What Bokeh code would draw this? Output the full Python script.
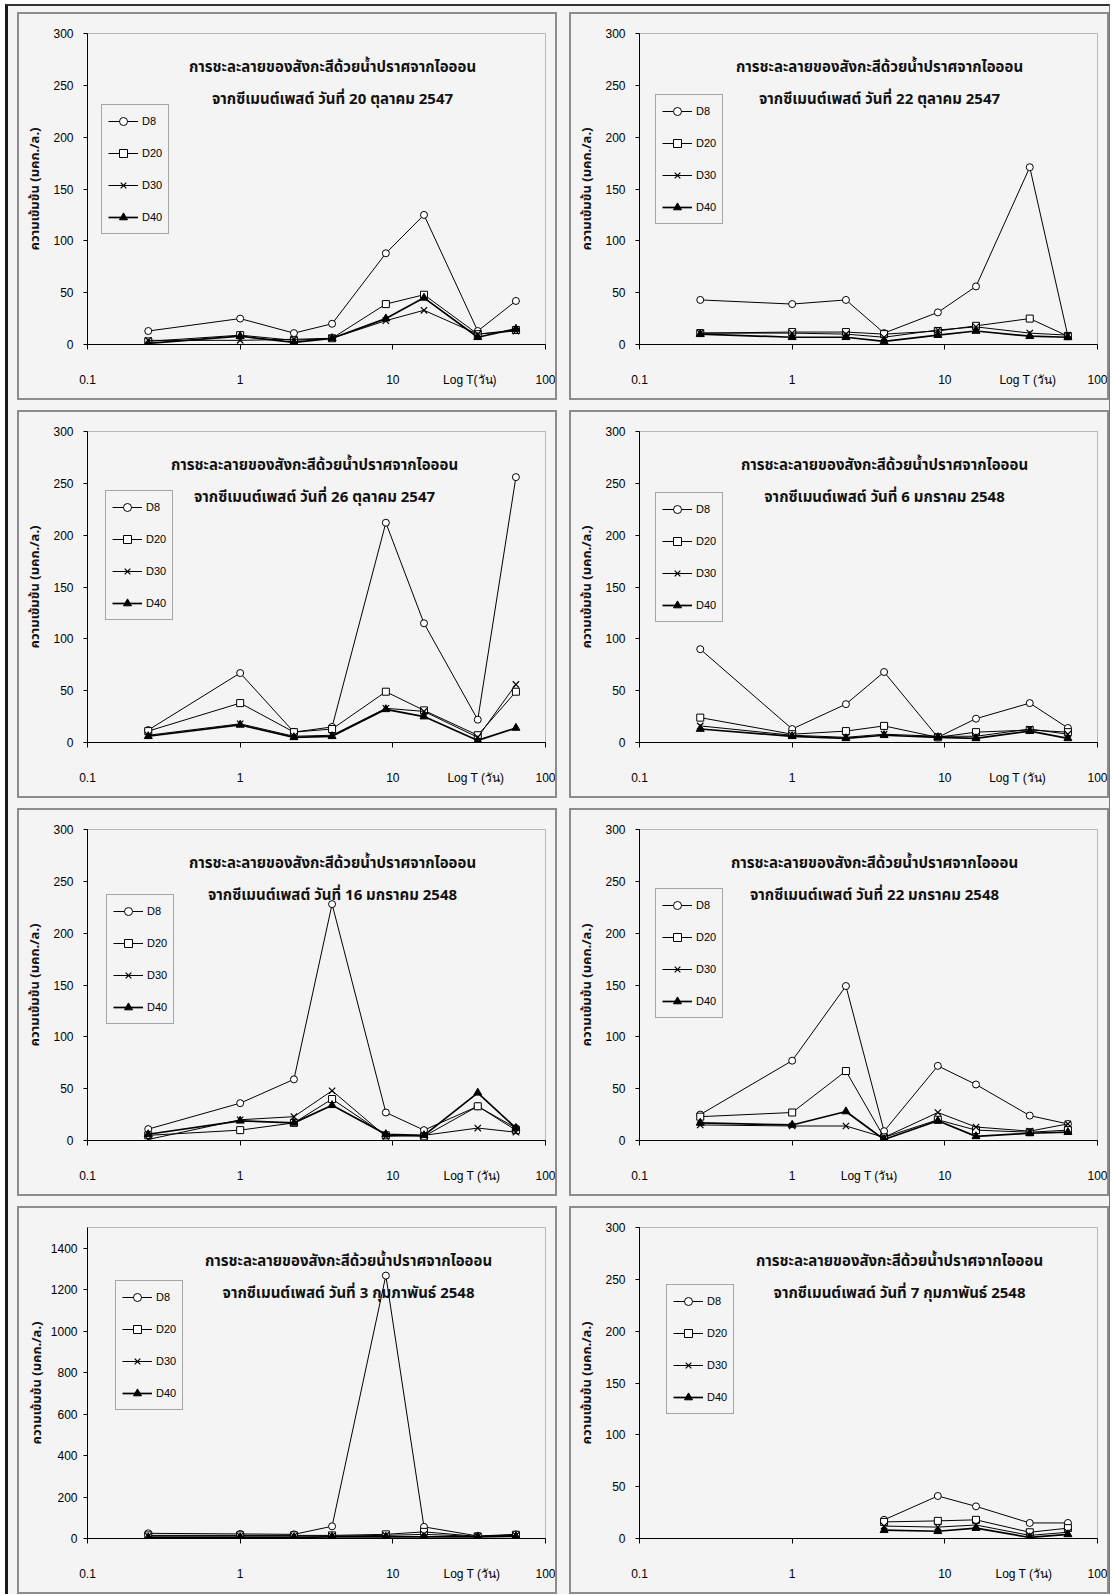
from bokeh.plotting import figure
from bokeh.layouts import gridplot
from bokeh.models import (Label, Legend, LegendItem, FixedTicker, Range1d,
                          CustomJSTickFormatter)
from bokeh.embed import file_html
from bokeh.resources import INLINE

# ---------------- data ----------------
t_days = [0.25, 1, 2.25, 4, 9, 16, 36, 64]
t_days_feb7 = [4, 9, 16, 36, 64]
series_names = ["D8", "D20", "D30", "D40"]

dates = ["20 ตุลาคม 2547", "22 ตุลาคม 2547", "26 ตุลาคม 2547", "6 มกราคม 2548",
         "16 มกราคม 2548", "22 มกราคม 2548", "3 กุมภาพันธ์ 2548", "7 กุมภาพันธ์ 2548"]

p1_D8 = [13, 25, 11, 20, 88, 125, 13, 42]
p1_D20 = [3, 9, 4, 6, 39, 48, 10, 14]
p1_D30 = [4, 4, 5, 6, 23, 33, 10, 13]
p1_D40 = [1, 8, 2, 6, 25, 45, 7, 15]

p2_D8 = [43, 39, 43, 11, 31, 56, 171, 8]
p2_D20 = [11, 12, 12, 10, 13, 18, 25, 8]
p2_D30 = [11, 11, 10, 7, 14, 17, 11, 9]
p2_D40 = [10, 7, 7, 3, 9, 13, 8, 7]

p3_D8 = [12, 67, 10, 15, 212, 115, 22, 256]
p3_D20 = [11, 38, 10, 13, 49, 31, 7, 49]
p3_D30 = [7, 18, 6, 7, 33, 30, 5, 56]
p3_D40 = [6, 17, 5, 6, 32, 25, 2, 14]

p4_D8 = [90, 13, 37, 68, 5, 23, 38, 14]
p4_D20 = [24, 8, 11, 16, 5, 10, 12, 10]
p4_D30 = [16, 7, 5, 8, 6, 6, 13, 8]
p4_D40 = [13, 6, 4, 7, 5, 4, 11, 4]

p5_D8 = [11, 36, 59, 228, 27, 10, 33, 12]
p5_D20 = [5, 10, 17, 40, 5, 4, 33, 10]
p5_D30 = [1, 20, 23, 48, 4, 5, 12, 8]
p5_D40 = [6, 19, 17, 34, 6, 5, 46, 12]

p6_D8 = [25, 77, 149, 9, 72, 54, 24, 16]
p6_D20 = [23, 27, 67, 3, 20, 10, 8, 10]
p6_D30 = [15, 14, 14, 3, 27, 13, 9, 16]
p6_D40 = [17, 15, 28, 1, 19, 4, 7, 8]

p7_D8 = [25, 22, 20, 59, 1268, 56, 12, 20]
p7_D20 = [15, 15, 15, 15, 20, 32, 10, 18]
p7_D30 = [12, 12, 12, 12, 15, 20, 10, 15]
p7_D40 = [5, 5, 5, 8, 8, 8, 8, 10]

p8_D8 = [18, 41, 31, 15, 15]
p8_D20 = [16, 17, 18, 6, 10]
p8_D30 = [12, 11, 13, 3, 6]
p8_D40 = [8, 7, 10, 1, 4]

y_ticks_300 = [0, 50, 100, 150, 200, 250, 300]
y_ticks_1400 = [0, 200, 400, 600, 800, 1000, 1200, 1400]
x_ticks = [0.1, 1, 10, 100]

title_line1 = "การชะละลายของสังกะสีด้วยน้ำปราศจากไอออน"
title_line2_prefix = "จากซีเมนต์เพสต์ วันที่ "
y_label = "ความเข้มข้น (มคก./ล.)"

panels = [
    dict(t=t_days, ys=[p1_D8, p1_D20, p1_D30, p1_D40], date=dates[0], ymax=300, yt=y_ticks_300,
         logx=32, logtext="Log T(วัน)", tdx=315, leg=(14, 68), std=(10, 5)),
    dict(t=t_days, ys=[p2_D8, p2_D20, p2_D30, p2_D40], date=dates[1], ymax=300, yt=y_ticks_300,
         logx=35, logtext="Log T (วัน)", tdx=310, leg=(16, 58), std=(10, 5)),
    dict(t=t_days, ys=[p3_D8, p3_D20, p3_D30, p3_D40], date=dates[2], ymax=300, yt=y_ticks_300,
         logx=35, logtext="Log T (วัน)", tdx=297, leg=(18, 56), std=(10, 5)),
    dict(t=t_days, ys=[p4_D8, p4_D20, p4_D30, p4_D40], date=dates[3], ymax=300, yt=y_ticks_300,
         logx=30, logtext="Log T (วัน)", tdx=315, leg=(16, 58), std=(10, 5)),
    dict(t=t_days, ys=[p5_D8, p5_D20, p5_D30, p5_D40], date=dates[4], ymax=300, yt=y_ticks_300,
         logx=33, logtext="Log T (วัน)", tdx=315, leg=(19, 62), std=(10, 5)),
    dict(t=t_days, ys=[p6_D8, p6_D20, p6_D30, p6_D40], date=dates[5], ymax=300, yt=y_ticks_300,
         logx=3.2, logtext="Log T (วัน)", tdx=305, leg=(16, 56), std=(10, 5)),
    dict(t=t_days, ys=[p7_D8, p7_D20, p7_D30, p7_D40], date=dates[6], ymax=1500, yt=y_ticks_1400,
         logx=33, logtext="Log T (วัน)", tdx=331, leg=(28, 50), std=(6, 1)),
    dict(t=t_days_feb7, ys=[p8_D8, p8_D20, p8_D30, p8_D40], date=dates[7], ymax=300, yt=y_ticks_300,
         logx=33, logtext="Log T (วัน)", tdx=330, leg=(27, 54), std=(10, 5)),
]

BG = "#f4f4f4"
NUM_FONT = "Liberation Sans"
THAI_FONT = "Noto Sans Thai, Tahoma, Loma, sans-serif"

BORDER = 2
W, H = 540, 388              # outer panel size (border included)
LEFT, RIGHT, TOP, BOTTOM = 68, 14, 19, 58
FRAME_H = H - 2 * BORDER - TOP - BOTTOM
LEG_H = 129
OUTER_LEFT = LEFT + BORDER

marker_styles = [
    dict(marker="circle", size=7, fill_color="white", line_color="black", line_width=1),
    dict(marker="square", size=7, fill_color="white", line_color="black", line_width=1),
    dict(marker="x", size=9, line_color="black", line_width=1.2),
    dict(marker="triangle", size=8, fill_color="black", line_color="black", line_width=1),
]
line_widths = [1, 1, 1, 1.7]


def make_panel(cfg):
    p = figure(width=W, height=H, x_axis_type="log",
               x_range=Range1d(0.1, 100), y_range=Range1d(0, cfg["ymax"]),
               output_backend="svg", toolbar_location=None,
               min_border_left=LEFT, min_border_right=RIGHT,
               min_border_top=TOP, min_border_bottom=BOTTOM)
    p.background_fill_color = BG
    p.border_fill_color = BG
    p.outline_line_color = "#7a7a7a"
    p.outline_line_dash = "1 1"
    p.outline_line_width = 1
    p.grid.visible = False
    p.styles = {"border": f"{BORDER}px solid #8c8c8c"}

    # x axis: decade tick marks drawn as minor ticks, labels at majors
    xa = p.xaxis[0]
    xa.ticker = FixedTicker(ticks=x_ticks[:3] + [cfg["logx"]] + x_ticks[3:], minor_ticks=x_ticks)
    xa.formatter = CustomJSTickFormatter(
        args=dict(lx=cfg["logx"], lt=cfg["logtext"]),
        code="return Math.abs(tick - lx) < 1e-6 ? lt : String(tick);")
    xa.major_tick_out = 0
    xa.major_tick_in = 0
    xa.minor_tick_out = 5
    xa.minor_tick_in = 0
    xa.minor_tick_line_color = "black"
    xa.major_label_standoff = 23
    xa.axis_line_color = "black"
    xa.major_label_text_font = NUM_FONT
    xa.major_label_text_font_size = "12px"
    xa.major_label_text_color = "black"

    # y axis
    ya = p.yaxis[0]
    ya.ticker = FixedTicker(ticks=cfg["yt"], minor_ticks=[])
    ya.major_tick_out = 4
    ya.major_tick_in = 0
    ya.minor_tick_out = 0
    ya.minor_tick_in = 0
    ya.major_label_standoff = cfg["std"][0]
    ya.axis_line_color = "black"
    ya.major_label_text_font = NUM_FONT
    ya.major_label_text_font_size = "12px"
    ya.major_label_text_color = "black"
    ya.axis_label = y_label
    ya.axis_label_text_font = THAI_FONT
    ya.axis_label_text_font_size = "13px"
    ya.axis_label_text_font_style = "bold"
    ya.axis_label_text_color = "#111111"
    ya.axis_label_standoff = cfg["std"][1]

    items = []
    for name, ys, ms, lw in zip(series_names, cfg["ys"], marker_styles, line_widths):
        lr = p.line(cfg["t"], ys, line_color="black", line_width=lw)
        sr = p.scatter(cfg["t"], ys, **ms)
        items.append(LegendItem(label=name, renderers=[lr, sr]))

    lx, ltop = cfg["leg"]
    leg = Legend(items=items, location=(lx, FRAME_H - ltop - LEG_H))
    leg.label_text_font = NUM_FONT
    leg.label_text_font_size = "11px"
    leg.label_text_color = "black"
    leg.glyph_width = 30
    leg.glyph_height = 20
    leg.label_height = 20
    leg.label_standoff = 4
    leg.spacing = 12
    leg.padding = 6
    leg.margin = 0
    leg.border_line_color = "#555555"
    leg.border_line_width = 1
    leg.background_fill_color = BG
    leg.background_fill_alpha = 1
    p.add_layout(leg)

    fx = cfg["tdx"] - OUTER_LEFT
    p.add_layout(Label(x=fx, y=FRAME_H - 30, x_units="screen", y_units="screen",
                       text=title_line1, text_align="center", text_baseline="middle",
                       text_font=THAI_FONT, text_font_size="15px", text_font_style="bold",
                       text_color="#111111"))
    p.add_layout(Label(x=fx, y=FRAME_H - 62, x_units="screen", y_units="screen",
                       text=title_line2_prefix + cfg["date"], text_align="center",
                       text_baseline="middle", text_font=THAI_FONT, text_font_size="15px",
                       text_font_style="bold", text_color="#111111"))
    return p


figs = [make_panel(c) for c in panels]
grid = gridplot([[figs[0], figs[1]], [figs[2], figs[3]], [figs[4], figs[5]], [figs[6], figs[7]]],
                toolbar_location=None)
grid.spacing = (10, 12)
grid.styles = {"margin": "4px 0px 0px 5px",
               "border-left": "3px solid #1a1a1a", "border-top": "2px solid #333333",
               "border-right": "1px solid #777777",
               "padding": "6px 0px 0px 9px", "background-color": BG}

open("out.html", "w").write(file_html(grid, INLINE))
